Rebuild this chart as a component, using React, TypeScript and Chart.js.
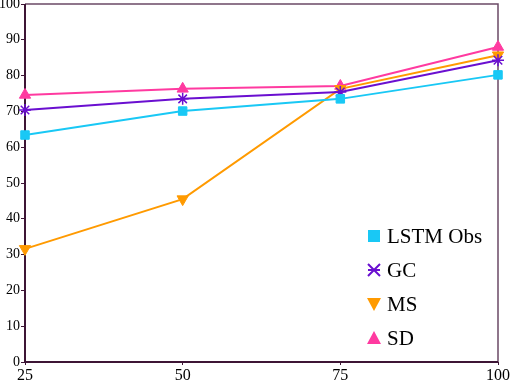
import React, { useEffect, useRef } from "react";
import { Chart, registerables } from "chart.js";

Chart.register(...registerables);

const xValues = [25, 50, 75, 100];
const lstmObs = [63.4, 70.1, 73.5, 80.2];
const gc = [70.4, 73.5, 75.4, 84.3];
const ms = [31.6, 45.5, 76.3, 85.7];
const sd = [74.6, 76.3, 77.1, 88.0];
const seriesNames = ["LSTM Obs", "GC", "MS", "SD"];
const colors = ["#19c8f5", "#6a0fd0", "#ff9a00", "#ff3aa0"];

const FONT = "'Liberation Serif', serif";

const framePlugin = {
  id: "frame",
  beforeDatasetsDraw(chart: any) {
    const { ctx, chartArea } = chart;
    const { left, right, top, bottom } = chartArea;
    ctx.save();
    ctx.strokeStyle = "#6b4a66";
    ctx.lineWidth = 1.5;
    ctx.beginPath();
    ctx.moveTo(left, top);
    ctx.lineTo(right, top);
    ctx.lineTo(right, bottom);
    ctx.stroke();
    ctx.strokeStyle = "#3d1535";
    ctx.lineWidth = 2;
    ctx.beginPath();
    ctx.moveTo(left, top);
    ctx.lineTo(left, bottom);
    ctx.lineTo(right, bottom);
    ctx.stroke();
    ctx.restore();
  },
};

const legendPlugin = {
  id: "innerLegend",
  afterDraw(chart: any) {
    const { ctx } = chart;
    const x0 = 374;
    const y0 = 236;
    const gap = 34;
    ctx.save();
    ctx.font = `21px ${FONT}`;
    ctx.textBaseline = "middle";
    chart.data.datasets.forEach((ds: any, i: number) => {
      const y = y0 + i * gap;
      ctx.fillStyle = ds.borderColor;
      ctx.strokeStyle = ds.borderColor;
      ctx.lineWidth = 2;
      const s = 6;
      if (i === 0) {
        ctx.fillRect(x0 - s, y - s, 2 * s, 2 * s);
      } else if (i === 1) {
        ctx.beginPath();
        ctx.moveTo(x0 - s, y - s);
        ctx.lineTo(x0 + s, y + s);
        ctx.moveTo(x0 + s, y - s);
        ctx.lineTo(x0 - s, y + s);
        ctx.moveTo(x0 - s, y);
        ctx.lineTo(x0 + s, y);
        ctx.stroke();
      } else if (i === 2) {
        ctx.beginPath();
        ctx.moveTo(x0 - s - 1, y - s);
        ctx.lineTo(x0 + s + 1, y - s);
        ctx.lineTo(x0, y + s + 1);
        ctx.closePath();
        ctx.fill();
      } else {
        ctx.beginPath();
        ctx.moveTo(x0 - s - 1, y + s);
        ctx.lineTo(x0 + s + 1, y + s);
        ctx.lineTo(x0, y - s - 1);
        ctx.closePath();
        ctx.fill();
      }
      ctx.fillStyle = "#000";
      ctx.fillText(ds.label, x0 + 13, y + 1);
    });
    ctx.restore();
  },
};

export default function App() {
  const ref = useRef<HTMLCanvasElement>(null);
  useEffect(() => {
    document.body.style.margin = "0";
    const mk = (vals: number[]) => vals.map((v, i) => ({ x: xValues[i], y: v }));
    const chart = new Chart(ref.current!, {
      type: "line",
      data: {
        datasets: [
          { label: seriesNames[0], data: mk(lstmObs), borderColor: colors[0], backgroundColor: colors[0], pointStyle: "rect", pointRadius: 6, clip: false },
          { label: seriesNames[1], data: mk(gc), borderColor: colors[1], backgroundColor: colors[1], pointStyle: "star", pointRadius: 6, pointBorderWidth: 1.5, clip: false },
          { label: seriesNames[2], data: mk(ms), borderColor: colors[2], backgroundColor: colors[2], pointStyle: "triangle", rotation: 180, pointRadius: 6.5, clip: false },
          { label: seriesNames[3], data: mk(sd), borderColor: colors[3], backgroundColor: colors[3], pointStyle: "triangle", pointRadius: 6.5, clip: false },
        ],
      },
      options: {
        animation: false,
        responsive: false,
        maintainAspectRatio: false,
        layout: { autoPadding: false, padding: { top: 4, right: 12, left: 0, bottom: 0 } },
        elements: { line: { borderWidth: 2, tension: 0 } },
        plugins: { legend: { display: false }, tooltip: { enabled: false } },
        scales: {
          x: {
            type: "linear",
            min: 25,
            max: 100,
            afterBuildTicks: (s: any) => { s.ticks = xValues.map((v) => ({ value: v })); },
            grid: { display: true, drawOnChartArea: false, drawTicks: true, tickLength: 3, color: "#3d1535" },
            border: { display: false },
            ticks: { color: "#000", font: { family: FONT, size: 16 }, padding: 1, maxRotation: 0 },
            afterFit: (s: any) => { s.height = 20; s.paddingLeft = 0; s.paddingRight = 0; },
          },
          y: {
            min: 0,
            max: 100,
            grid: { display: true, drawOnChartArea: false, drawTicks: true, tickLength: 4, color: "#3d1535" },
            border: { display: false },
            ticks: { stepSize: 10, color: "#000", font: { family: FONT, size: 14 }, padding: 1 },
            afterFit: (s: any) => { s.width = 25; s.paddingTop = 0; s.paddingBottom = 0; },
          },
        },
      },
      plugins: [framePlugin, legendPlugin],
    } as any);
    return () => chart.destroy();
  }, []);
  return (
    <div style={{ position: "fixed", left: 0, top: 0, width: 510, height: 382, background: "#fff" }}>
      <canvas ref={ref} width={510} height={382} style={{ display: "block" }} />
    </div>
  );
}
